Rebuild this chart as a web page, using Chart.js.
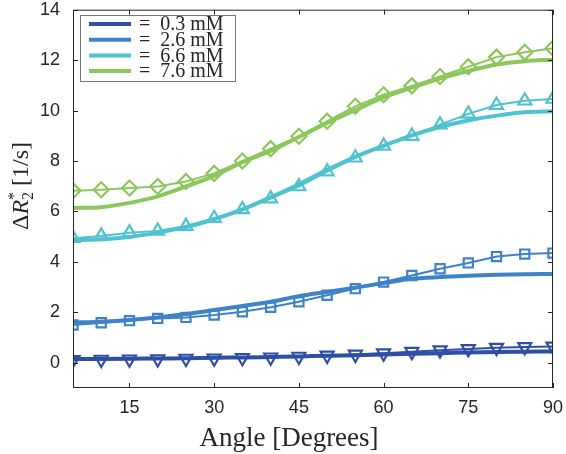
<!DOCTYPE html>
<html>
<head>
  <title>Delta R2* vs angle</title>
  <style>
    html, body { margin: 0; padding: 0; background: #fff; }
    .chart-box { position: relative; width: 566px; height: 454px; }
  </style>
</head>
<body>
  <div class="chart-box">
    <canvas id="angleChart" width="566" height="454"></canvas>
  </div>

  <script src="https://cdn.jsdelivr.net/npm/chart.js"></script>
  <script>
    // measured angles (degrees)
    const angles = [5, 10, 15, 20, 25, 30, 35, 40, 45, 50, 55, 60, 65, 70, 75, 80, 85, 90];

    // measured dR2* values (markers)
    const meas03 = [0.12, 0.13, 0.14, 0.15, 0.17, 0.18, 0.20, 0.22, 0.25, 0.29, 0.33, 0.38, 0.44, 0.50, 0.55, 0.60, 0.63, 0.65];
    const meas26 = [1.50, 1.59, 1.67, 1.76, 1.80, 1.89, 2.02, 2.20, 2.42, 2.68, 2.94, 3.20, 3.46, 3.73, 3.96, 4.21, 4.31, 4.35];
    const meas66 = [4.94, 5.03, 5.16, 5.23, 5.42, 5.73, 6.08, 6.51, 6.99, 7.58, 8.13, 8.60, 8.99, 9.44, 9.87, 10.22, 10.39, 10.46];
    const meas76 = [6.82, 6.86, 6.93, 6.99, 7.19, 7.51, 8.00, 8.49, 8.98, 9.58, 10.17, 10.63, 10.98, 11.35, 11.74, 12.12, 12.31, 12.47];

    // model fits (thick lines)
    const fit03 = [0.15, 0.15, 0.16, 0.17, 0.18, 0.20, 0.21, 0.23, 0.25, 0.28, 0.30, 0.33, 0.36, 0.38, 0.41, 0.43, 0.44, 0.45];
    const fit26 = [1.59, 1.63, 1.70, 1.80, 1.93, 2.09, 2.25, 2.42, 2.64, 2.81, 2.98, 3.16, 3.33, 3.40, 3.45, 3.49, 3.51, 3.52];
    const fit66 = [4.86, 4.90, 4.99, 5.16, 5.38, 5.69, 6.08, 6.56, 7.08, 7.65, 8.17, 8.60, 9.02, 9.35, 9.61, 9.80, 9.93, 9.97];
    const fit76 = [6.14, 6.17, 6.34, 6.60, 6.99, 7.41, 7.95, 8.40, 8.95, 9.51, 10.02, 10.52, 10.91, 11.27, 11.57, 11.83, 11.96, 12.02];

    const labels = ['= 0.3 mM', '= 2.6 mM', '= 6.6 mM', '= 7.6 mM'];
    const colors = ['#2f4fa6', '#3f82ca', '#4fc3cf', '#8cc75b'];
    const markers = [['triangle', 180, 7.5], ['rect', 0, 6.5], ['triangle', 0, 7.5], ['rectRot', 0, 7.5]];

    const xTicks = [15, 30, 45, 60, 75, 90];
    const yTicks = [0, 2, 4, 6, 8, 10, 12, 14];

    const toXY = vals => vals.map((v, i) => ({ x: angles[i], y: v }));

    const measured = [meas03, meas26, meas66, meas76];
    const fits = [fit03, fit26, fit66, fit76];

    const datasets = [];
    measured.forEach((m, i) => {
      datasets.push({
        label: labels[i] + ' data',
        data: toXY(m),
        borderColor: colors[i],
        borderWidth: 2,
        pointStyle: markers[i][0],
        pointRotation: markers[i][1],
        pointRadius: markers[i][2],
        pointBorderWidth: 2.2,
        pointBorderColor: colors[i],
        pointBackgroundColor: 'rgba(0,0,0,0)',
        tension: 0,
        isFit: false
      });
    });
    fits.forEach((f, i) => {
      datasets.push({
        label: labels[i],
        data: toXY(f),
        borderColor: colors[i],
        borderWidth: 4,
        pointRadius: 0,
        cubicInterpolationMode: 'monotone',
        isFit: true
      });
    });

    // box with inward ticks, legend and axis titles
    const matlabLook = {
      id: 'matlabLook',
      afterDraw(chart) {
        const ctx = chart.ctx;
        const a = chart.chartArea;
        const xs = chart.scales.x, ys = chart.scales.y;
        ctx.save();
        ctx.strokeStyle = '#262626';
        ctx.lineWidth = 1;
        ctx.strokeRect(a.left + 0.5, a.top + 0.5, a.right - a.left - 1, a.bottom - a.top - 1);
        ctx.beginPath();
        xTicks.forEach(v => {
          const px = Math.round(xs.getPixelForValue(v)) + 0.5;
          ctx.moveTo(px, a.bottom); ctx.lineTo(px, a.bottom - 5);
          ctx.moveTo(px, a.top); ctx.lineTo(px, a.top + 5);
        });
        yTicks.forEach(v => {
          const py = Math.round(ys.getPixelForValue(v)) + 0.5;
          ctx.moveTo(a.left, py); ctx.lineTo(a.left + 5, py);
          ctx.moveTo(a.right, py); ctx.lineTo(a.right - 5, py);
        });
        ctx.stroke();

        // legend
        const lx = 80, ly = 15, lw = 155, lh = 66;
        ctx.fillStyle = '#fff';
        ctx.fillRect(lx, ly, lw, lh);
        ctx.strokeStyle = '#777';
        ctx.strokeRect(lx + 0.5, ly + 0.5, lw, lh);
        ctx.font = '20px "Liberation Serif"';
        ctx.textBaseline = 'middle';
        chart.data.datasets.filter(d => d.isFit).forEach((d, i) => {
          const y = 24 + i * 15.7;
          ctx.strokeStyle = d.borderColor;
          ctx.lineWidth = 4;
          ctx.beginPath();
          ctx.moveTo(89, y); ctx.lineTo(131, y);
          ctx.stroke();
          ctx.fillStyle = '#262626';
          ctx.fillText(d.label.replace('= ', '=  '), 139, y + 1);
        });

        // x axis title
        ctx.fillStyle = '#262626';
        ctx.textBaseline = 'alphabetic';
        ctx.textAlign = 'center';
        ctx.font = '27px "Liberation Serif"';
        ctx.fillText('Angle [Degrees]', 289, 446);
        ctx.textAlign = 'left';

        // y axis title: ΔR2* [1/s]
        ctx.translate(20, 186);
        ctx.rotate(-Math.PI / 2);
        const parts = [
          ['Δ', '24px "Liberation Serif"', 0],
          ['R', 'italic 24px "Liberation Serif"', 0],
          ['2', '16px "Liberation Serif"', 5],
          [' [1/s]', '24px "Liberation Serif"', 0]
        ];
        let w = 0;
        parts.forEach(p => { ctx.font = p[1]; w += ctx.measureText(p[0]).width; });
        let x = -w / 2;
        parts.forEach((p, i) => {
          ctx.font = p[1];
          ctx.fillText(p[0], x, 8 + p[2]);
          if (i === 2) {
            ctx.fillText('*', x, -1);
          }
          x += ctx.measureText(p[0]).width;
        });
        ctx.restore();
      }
    };

    new Chart(document.getElementById('angleChart'), {
      type: 'line',
      data: { datasets: datasets },
      options: {
        responsive: false,
        animation: false,
        layout: { padding: { top: 7, right: 13, left: 0, bottom: 0 } },
        plugins: { legend: { display: false }, tooltip: { enabled: false } },
        scales: {
          x: {
            type: 'linear',
            min: 5,
            max: 90,
            afterBuildTicks: s => { s.ticks = xTicks.map(v => ({ value: v })); },
            afterFit: s => { s.height = 66; s.paddingLeft = 0; s.paddingRight = 0; },
            grid: { display: false },
            border: { display: false },
            ticks: { color: '#262626', padding: 1, font: { family: '"Liberation Sans"', size: 18 } }
          },
          y: {
            type: 'linear',
            min: -1,
            max: 14,
            afterBuildTicks: s => { s.ticks = yTicks.map(v => ({ value: v })); },
            afterFit: s => { s.width = 73; s.paddingTop = 0; s.paddingBottom = 0; },
            grid: { display: false },
            border: { display: false },
            ticks: { color: '#262626', padding: 5, font: { family: '"Liberation Sans"', size: 18 } }
          }
        }
      },
      plugins: [matlabLook]
    });
  </script>
</body>
</html>
